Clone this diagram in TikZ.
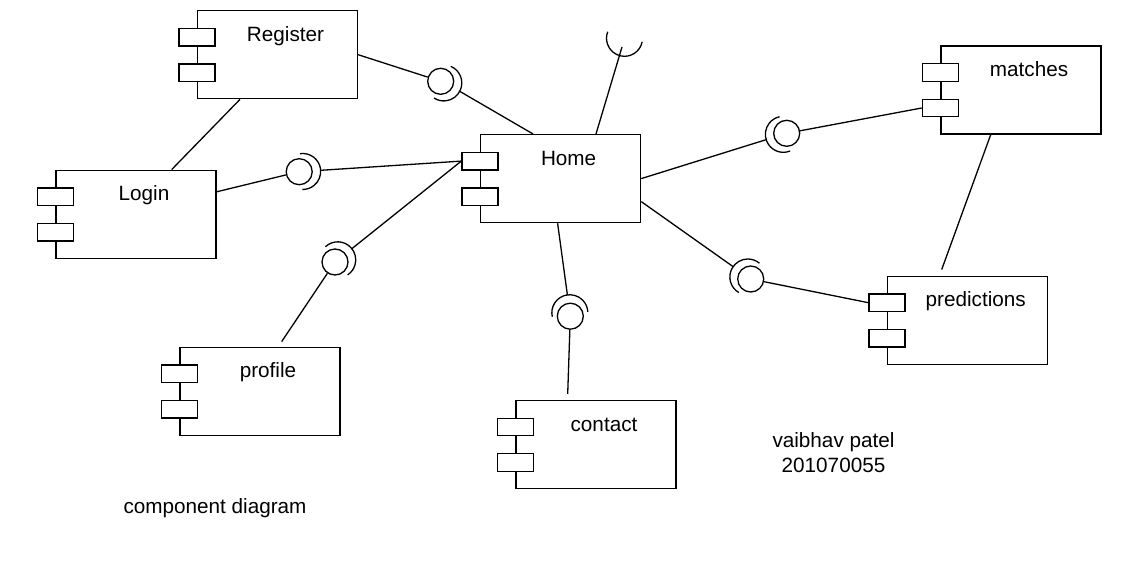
\documentclass[tikz,border=0pt]{standalone}
\usepackage{fontspec}
\setmainfont{Liberation Sans}
\usetikzlibrary{calc}
\tikzset{comp/.style={draw, fill=white, minimum width=160pt, minimum height=88pt, inner sep=0pt},
  port/.style={draw, fill=white, minimum width=36pt, minimum height=17.5pt, inner sep=0pt},
  ball/.style={circle, draw, fill=white, minimum size=26pt, inner sep=0pt}}
\newcommand{\compbox}[4]{ \node[comp] (#1) at ( #2 , #3 ) {}; \node[port] (#1up) at ([yshift=17.5pt]#1.west) {}; \node[port] (#1lo) at ([yshift=-18pt]#1.west) {}; \node[anchor=base] (#1txt) at ([xshift=8pt,yshift=13.5pt]#1.center) {#4};}
\newcommand{\socketarc}[2]{ \draw ([shift={(#2+95:18pt)}]#1) arc[start angle=#2+95, delta angle=-190, radius=18pt];}
\newcommand{\lolli}[4]{ \node[ball] (#1) at ( #2 , #3 ) {}; \coordinate (#1c) at ([shift={(#4:3.5pt)}]#1.center); \coordinate (#1m) at ([shift={(#4:21.5pt)}]#1.center); \socketarc{#1c}{#4}}

\begin{document}
\begin{tikzpicture}[x=1pt, y=-1pt, line width=1.3pt, font=\fontsize{20.7}{25}\selectfont]
    \useasboundingbox (0,0) rectangle (1147,562);

    \compbox{register}{277.5}{54.7}{Register}
    \compbox{login}{136}{214.2}{Login}
    \compbox{home}{560.6}{178.6}{Home}
    \compbox{matches}{1021}{90}{matches}
    \compbox{predictions}{967.7}{320.2}{predictions}
    \compbox{profile}{260}{391.2}{profile}
    \compbox{contact}{596}{444.5}{contact}

    \lolli{regball}{440.7}{81.3}{-27.8}
    \lolli{logball}{299.2}{171.7}{3.7}
    \lolli{proball}{335}{262}{38.3}
    \lolli{matball}{786.7}{133.3}{197.2}
    \lolli{preball}{750.7}{279}{144.9}
    \lolli{conball}{570.3}{316.2}{97.8}

    % open socket above Home
    \coordinate (upc) at (624.5,38.3);
    \coordinate (up) at (622,47);
    \socketarc{upc}{-106.5}

    \draw (register.east) -- (regball);
    \draw (regballm) -- ([xshift=-27.6pt]home.north);
    \draw ([yshift=22.4pt]login.east) -- (logball);
    \draw (logballm) -- (homeup.west);
    \draw ([xshift=21.7pt,yshift=5pt]profile.north) -- (proball);
    \draw (proballm) -- (homeup.west);
    \draw (home.east) -- (matballm);
    \draw (matball) -- (matcheslo.west);
    \draw ([yshift=-23pt]home.east) -- (preballm);
    \draw (preball) -- (predictionsup.west);
    \draw ([xshift=-3pt]home.south) -- (conballm);
    \draw (conball) -- ([xshift=-28.3pt,yshift=6pt]contact.north);
    \draw ([xshift=35.4pt]home.north) -- (up);
    \draw ([xshift=-37.5pt]register.south) -- ([xshift=35.7pt]login.north);
    \draw ([xshift=-30.3pt]matches.south) -- ([xshift=-26pt,yshift=6pt]predictions.north);

    \node[anchor=base] (author) at (833.5,447.3) {vaibhav patel};
    \node[anchor=base] (idno) at (833.5,472.3) {201070055};
    \node[anchor=base] (caption) at (215,513.3) {component diagram};
\end{tikzpicture}
\end{document}
